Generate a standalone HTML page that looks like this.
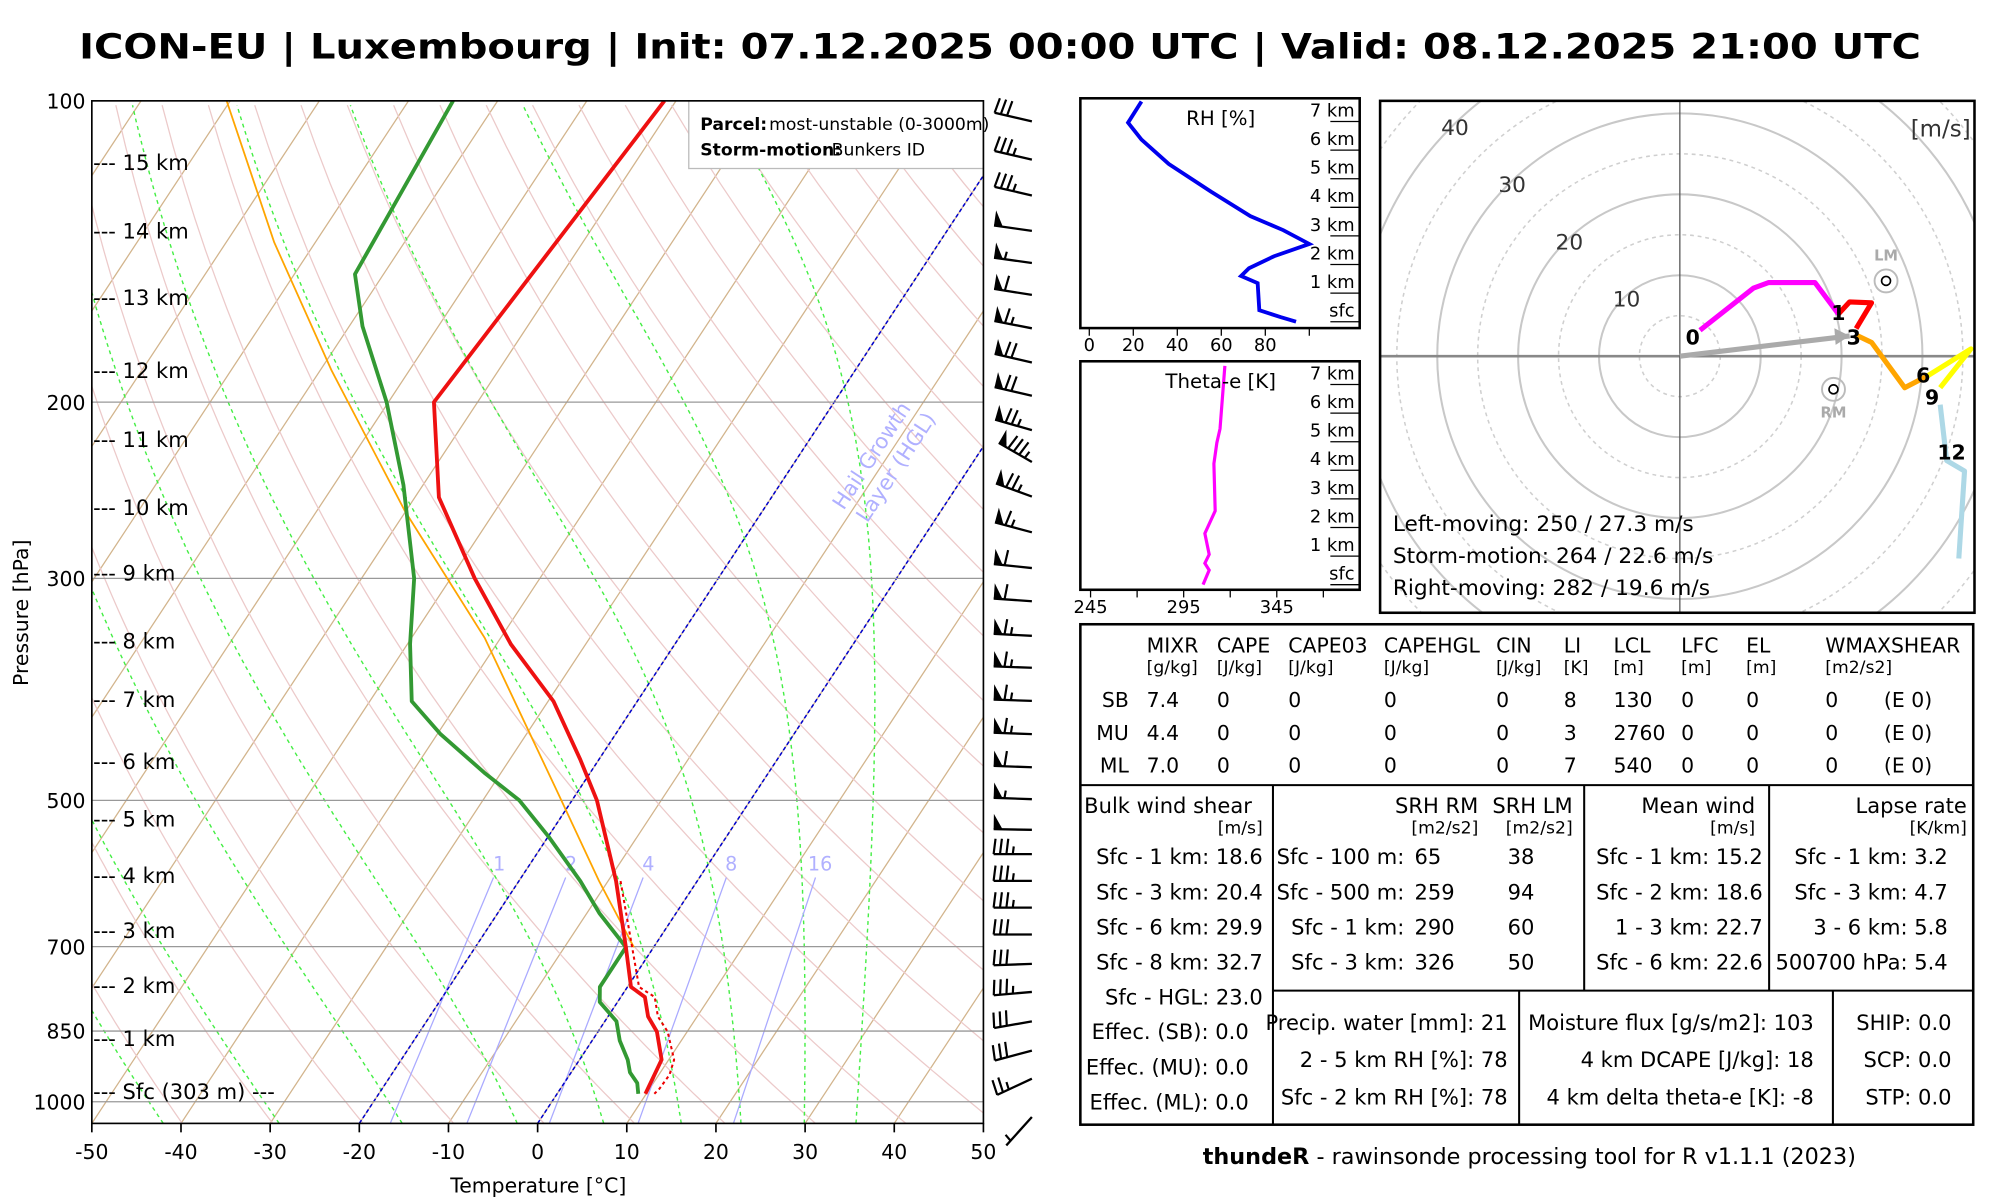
<!DOCTYPE html>
<html><head><meta charset="utf-8"><style>
html,body{margin:0;padding:0;background:#fff;}
svg{display:block;font-family:"DejaVu Sans","Liberation Sans",sans-serif;}
</style></head><body>
<svg id="root" xmlns="http://www.w3.org/2000/svg" width="2000" height="1200" viewBox="0 0 1568 940" preserveAspectRatio="none">
<defs>
<clipPath id="skewclip"><rect x="72" y="79" width="699" height="801"/></clipPath>
<clipPath id="hodoclip"><rect x="1082" y="79" width="466" height="401"/></clipPath>
<clipPath id="rhclip"><rect x="847" y="77" width="219" height="180"/></clipPath>
<clipPath id="thclip"><rect x="847" y="283" width="219" height="179"/></clipPath>
</defs>
<text x="784" y="46" text-anchor="middle" font-size="27" font-weight="bold" textLength="1444" lengthAdjust="spacingAndGlyphs">ICON-EU | Luxembourg | Init: 07.12.2025 00:00 UTC | Valid: 08.12.2025 21:00 UTC</text>
<g id="skew"></g>
<g id="barbs"></g>
<g id="rh"></g>
<g id="th"></g>
<g id="hodo"></g>
<g id="tbl" font-size="16.5"></g>
<text x="1199" y="912" text-anchor="middle" font-size="17.5"><tspan font-weight="bold">thundeR</tspan> - rawinsonde processing tool for R v1.1.1 (2023)</text>
</svg>
<script>
// ---- Skew-T data ----
const tempP = [100,200,249,300,349,398,455,500,602,701,768,786,822,851,908,971,982];
const tempT = [-61.3,-64.9,-57.3,-47.3,-38.4,-29.4,-22.1,-17.2,-9.1,-3.1,0.4,2.7,4.5,6.6,9.2,9.8,9.9];
const virtP = [602,701,768,786,822,851,908,940,971,982];
const virtT = [-8.6,-2.4,1.3,3.8,5.6,7.8,10.6,11.2,11.1,10.9];
const dewP = [100,149,168,200,242,300,349,398,429,469,500,543,602,648,701,768,795,831,869,908,935,958,982];
const dewT = [-85,-83.2,-78.5,-70.2,-62.2,-54.1,-49.7,-45.3,-39.7,-31.9,-25.9,-20,-13.1,-8.6,-3.1,-3.1,-2,1.3,3.1,5.4,6.6,8.2,9.1];
const parcelP = [100,138.5,186,257,344,490,602,701];
const parcelT = [-110.4,-94.6,-78.7,-60.1,-41.8,-22.3,-11,-2.2];
const isobars = [200,300,500,700,850,1000];
const pLabels = [100,200,300,500,700,850,1000];
const xTicks = [-50,-40,-30,-20,-10,0,10,20,30,40,50];
const kmNames = ["15 km","14 km","13 km","12 km","11 km","10 km","9 km","8 km","7 km","6 km","5 km","4 km","3 km","2 km","1 km","Sfc (303 m) ---"];
const kmP = [115.5,135.3,157.6,186.4,218.5,255.4,297.2,347.4,397.5,458.6,523,595.5,676.5,767.2,867.3,979];
const mixW = [1,2,4,8,16];
const moistStart = [-42,-29,-15.2,-2.3,7.4,16.1,22.8,29.9,35.7];
const hglIsotherms = [-20,0];
// ---- Wind barbs ----
const barbP = [103.3,112.8,122.5,132.9,143.1,154,166.3,179.9,194.2,210.2,226.2,244.9,265.9,288.7,311.6,337.4,363.1,391.9,423,456.5,491.3,527.2,557.5,592.9,630.5,670.8,717.7,765.5,819.1,876.1,934.6,1020.7];
const barbSpd = [30,35,35,50,55,60,65,70,70,75,85,75,65,60,60,65,65,65,65,60,55,50,35,35,35,30,30,35,30,30,25,5];
const barbDir = [283,283,283,278,278,279,281,283,283,286,300,290,285,276,274,273,272,272,272,272,272,271,270,270,270,270,268,265,260,255,245,222];
// ---- RH / theta-e ----
const rhH = [0,0.16,0.4,1.35,1.6,1.87,2.29,2.72,3.2,3.69,4.55,5.52,6.37,6.96,7.7];
const rhV = [94,86.9,77.3,76.5,69,72.6,84,100,88.2,73.2,55.3,36.1,23.7,17.6,23.7];
const thH = [0,0.51,0.75,1.06,1.79,2.58,4.23,4.96,5.45,7.65];
const thV = [305.4,308.7,306.4,308.7,306.4,311.9,311.2,312.8,314.5,317.1];
const kmTicks = ["sfc","1 km","2 km","3 km","4 km","5 km","6 km","7 km"];
const rhTicks = [0,20,40,60,80];
const thTicks = [245,295,345];
// ---- Hodograph ----
const hodoU0 = [2.5,9.1,11,16.7,18.8,19.6];   const hodoV0 = [3.2,8.4,9.1,9.1,6.3,5.2];
const hodoU1 = [19.6,21,23.7,21.8];            const hodoV1 = [5.2,6.7,6.6,3.4];
const hodoU3 = [21.8,23.7,27.8,30.7];          const hodoV3 = [2.6,1.7,-3.9,-2.4];
const hodoU6 = [30.7,36,32.2];                 const hodoV6 = [-2.4,0.9,-3.9];
const hodoU9 = [32.2,33,35.2,34.5];            const hodoV9 = [-6,-12.9,-14.2,-25];
const hodoLbl = ["0","1","3","6","9","12"];
const hodoLblU = [1.6,19.6,21.5,30.1,31.2,33.6];
const hodoLblV = [2.4,5.4,2.4,-2.3,-5,-11.8];
const stormU = [25.5,19,21]; const stormV = [9.3,-4.1,2.5];
const ringsSolid = [10,20,30,40]; const ringsDash = [5,15,25,35,45];

const NS = "http://www.w3.org/2000/svg";
function mk(tag, attrs, parent){const e=document.createElementNS(NS,tag);for(const k in attrs)e.setAttribute(k,attrs[k]);parent.appendChild(e);return e;}
function txt(parent,x,y,s,size,anchor,extra){const e=mk("text",Object.assign({x:x,y:y,"font-size":size,"text-anchor":anchor||"start"},extra||{}),parent);e.textContent=s;return e;}

const yP = p => 79 + 784*Math.log10(p/100);
const xT = (T,p) => 72 + (T+50)*6.99 + (880 - yP(p))*0.659;

const skew = document.getElementById("skew");
const cl = mk("g",{"clip-path":"url(#skewclip)"},skew);


for(let T=-160;T<=50;T+=10){
  const l=mk("line",{x1:xT(T,1051),y1:yP(1051),x2:xT(T,100),y2:yP(100),stroke:"#d2b48c","stroke-width":1},cl);
  
  
}
for(let th=220;th<=520;th+=10){
  let d="";for(let p=1051;p>=100;p-=10){const T=th*Math.pow(p/1000,0.2857)-273.15;d+=(d?"L":"M")+xT(T,p).toFixed(1)+","+yP(p).toFixed(1);}
  const l=mk("path",{d:d,fill:"none",stroke:"#eccaca","stroke-width":1},cl);
  
  
}
function es(T){return 6.112*Math.exp(17.67*T/(T+243.5));}
moistStart.forEach(T0=>{
  let T=T0+273.15,d="";
  for(let p=1051;p>=100;p-=2){
    d+=(d?"L":"M")+xT(T-273.15,p).toFixed(1)+","+yP(p).toFixed(1);
    const e=es(T-273.15),rs=0.622*e/(p-e);
    const dTdp=(287*T+2.5e6*rs)/(p*(1005+2.5e6*2.5e6*rs*0.622/(287*T*T)));
    T-=dTdp*2;
  }
  const l=mk("path",{d:d,fill:"none",stroke:"#44ee44","stroke-width":1.1,"stroke-dasharray":"3,3"},cl);
  
  
});
mixW.forEach(w=>{
  const td=p=>{const e=w*p/(622+w);const a=Math.log(e/6.112);return 243.5*a/(17.67-a);};
  const l=mk("line",{x1:xT(td(1051),1051),y1:yP(1051),x2:xT(td(597),597),y2:yP(597),stroke:"#aaaaff","stroke-width":1},cl);
  
  
  const t=txt(cl,xT(td(579),579),yP(579)+5,String(w),15,"middle",{fill:"#b0b0ff"});
  
  
});
hglIsotherms.forEach(T=>{
  const l=mk("line",{x1:xT(T,1051),y1:yP(1051),x2:xT(T,100),y2:yP(100),stroke:"#0000cc","stroke-width":1.2,"stroke-dasharray":"3,2"},cl);
  
  
});
const hg=txt(cl,0,0,"Hail Growth",16.5,"middle",{fill:"#b0b0ff",transform:"translate(688,360) rotate(-56.6)"});


const hg2=txt(cl,0,0,"Layer (HGL)",16.5,"middle",{fill:"#b0b0ff",transform:"translate(707,369) rotate(-56.6)"});


isobars.forEach(p=>{
  const l=mk("line",{x1:72,y1:yP(p),x2:771,y2:yP(p),stroke:"#999","stroke-width":1},cl);
  
  
});
function prof(P,T,attrs,name){
  const d=P.map((p,i)=>(i?"L":"M")+xT(T[i],p).toFixed(1)+","+yP(p).toFixed(1)).join("");
  const l=mk("path",Object.assign({d:d,fill:"none","stroke-linejoin":"round"},attrs),cl);
  
  
}
prof(parcelP,parcelT,{stroke:"#ffa500","stroke-width":1.4},"parcel-line");
prof(virtP,virtT,{stroke:"#ee0000","stroke-width":1.6,"stroke-dasharray":"2.5,2.5"},"virtual-temperature-line");
prof(dewP,dewT,{stroke:"#339933","stroke-width":3},"dewpoint-line");
prof(tempP,tempT,{stroke:"#ee1111","stroke-width":3},"temperature-line");
kmNames.forEach((s,i)=>{
  const t=txt(skew,73,yP(kmP[i])+5,"--- "+s,16.5,"start");
  
  
});
const lg=mk("g",{},skew);


mk("rect",{x:540,y:79,width:231,height:53,fill:"#fff",stroke:"#bbb","stroke-width":1},lg);
txt(lg,549,102,"Parcel:",13.5,"start",{"font-weight":"bold"});
txt(lg,603,102,"most-unstable (0-3000m)",13.5,"start");
txt(lg,549,122,"Storm-motion:",13.5,"start",{"font-weight":"bold"});
txt(lg,652,122,"Bunkers ID",13.5,"start");
mk("rect",{x:72,y:79,width:699,height:801,fill:"none",stroke:"#000","stroke-width":1.3},skew);
pLabels.forEach(p=>{
  const t=txt(skew,67,yP(p)+6,String(p),16,"end");
  
  
});
xTicks.forEach(T=>{
  const x=72+(T+50)*6.99;
  mk("line",{x1:x,y1:880,x2:x,y2:887,stroke:"#000","stroke-width":1.3},skew);
  const t=txt(skew,x,908,String(T),16,"middle");
  
  
});
const xt=txt(skew,422,934,"Temperature [°C]",16,"middle");


const yt=txt(skew,0,0,"Pressure [hPa]",16,"middle",{transform:"translate(22,480) rotate(-90)"});



// ---- barbs ----
const bg=document.getElementById("barbs");
barbP.forEach((p,i)=>{
  const g=mk("g",{},bg);
  
  
  const a=barbDir[i]*Math.PI/180, sx=Math.sin(a), sy=-Math.cos(a);
  const ax=809, ay=yP(p)+5, L=30;
  const ex=ax+sx*L, ey=ay+sy*L;
  mk("line",{x1:ax,y1:ay,x2:ex,y2:ey,stroke:"#000","stroke-width":1.8},g);
  const fx=-sy, fy=sx;
  let s=Math.round(barbSpd[i]/5)*5, pos=0;
  const pt=d=>[ex-sx*d, ey-sy*d];
  while(s>=50){const [x1,y1]=pt(pos),[x2,y2]=pt(pos+7);
    mk("polygon",{points:`${x1},${y1} ${x2},${y2} ${x1+fx*12},${y1+fy*12}`,fill:"#000"},g);pos+=8.5;s-=50;}
  while(s>=10){const [x1,y1]=pt(pos);mk("line",{x1:x1,y1:y1,x2:x1+fx*12-sx*1.5,y2:y1+fy*12-sy*1.5,stroke:"#000","stroke-width":1.7},g);pos+=5;s-=10;}
  if(s>=5){if(pos===0)pos=5;const [x1,y1]=pt(pos);mk("line",{x1:x1,y1:y1,x2:x1+fx*6-sx*0.8,y2:y1+fy*6-sy*0.8,stroke:"#000","stroke-width":1.7},g);}
});

// ---- RH panel ----
const rh=document.getElementById("rh");
const xRH=v=>854+v*1.725, yH1=h=>252-h*22.4;
mk("rect",{x:847,y:77,width:219,height:180,fill:"none",stroke:"#000","stroke-width":2},rh);
const rl=mk("path",{d:rhV.map((v,i)=>(i?"L":"M")+xRH(v).toFixed(1)+","+yH1(rhH[i]).toFixed(1)).join(""),fill:"none",stroke:"#0000ee","stroke-width":3,"clip-path":"url(#rhclip)"},rh);


txt(rh,957,98,"RH [%]",15.5,"middle");
kmTicks.forEach((s,i)=>{mk("line",{x1:1043,y1:yH1(i),x2:1066,y2:yH1(i),stroke:"#000","stroke-width":1},rh);
  const t=txt(rh,1062,yH1(i)-4,s,14,"end");});
rhTicks.concat([100]).forEach(v=>{mk("line",{x1:xRH(v),y1:257,x2:xRH(v),y2:263,stroke:"#000"},rh);});
rhTicks.forEach(v=>{const t=txt(rh,xRH(v),275,String(v),14,"middle");});

// ---- theta-e panel ----
const th=document.getElementById("th");
const xTH=v=>855+(v-245)*1.46, yH2=h=>458-h*22.4;
mk("rect",{x:847,y:283,width:219,height:179,fill:"none",stroke:"#000","stroke-width":2},th);
const tl=mk("path",{d:thV.map((v,i)=>(i?"L":"M")+xTH(v).toFixed(1)+","+yH2(thH[i]).toFixed(1)).join(""),fill:"none",stroke:"#ff00ff","stroke-width":2.5,"clip-path":"url(#thclip)"},th);


txt(th,957,304,"Theta-e [K]",15.5,"middle");
kmTicks.forEach((s,i)=>{mk("line",{x1:1043,y1:yH2(i),x2:1066,y2:yH2(i),stroke:"#000","stroke-width":1},th);
  const t=txt(th,1062,yH2(i)-4,s,14,"end");});
[245,270,295,320,345,370].forEach(v=>mk("line",{x1:xTH(v),y1:462,x2:xTH(v),y2:468,stroke:"#000"},th));
thTicks.forEach(v=>{const t=txt(th,xTH(v),480,String(v),14,"middle");});

// ---- hodograph ----
const ho=document.getElementById("hodo");
const cx=1317, cy=279, k=6.34;
const hx=u=>cx+u*k, hy=v=>cy-v*k;
const hc=mk("g",{"clip-path":"url(#hodoclip)"},ho);
ringsDash.forEach(r=>mk("circle",{cx:cx,cy:cy,r:r*k,fill:"none",stroke:"#cfcfcf","stroke-width":1.2,"stroke-dasharray":"3,3"},hc));
ringsSolid.forEach(r=>{const c=mk("circle",{cx:cx,cy:cy,r:r*k,fill:"none",stroke:"#c8c8c8","stroke-width":1.6},hc);
  
  const t=txt(hc,cx-r*k*0.707+3,cy-r*k*0.707+6,String(r),17,"middle",{fill:"#333"});});
mk("line",{x1:1082,y1:cy,x2:1548,y2:cy,stroke:"#888","stroke-width":2},hc);
mk("line",{x1:cx,y1:79,x2:cx,y2:480,stroke:"#555","stroke-width":1},hc);
txt(hc,1545,107,"[m/s]",18,"end",{fill:"#333"});
const ar=mk("line",{x1:cx,y1:cy,x2:hx(stormU[2]),y2:hy(stormV[2]),stroke:"#aaa","stroke-width":4},hc);

mk("polygon",{points:`${hx(stormU[2])},${hy(stormV[2])} ${hx(stormU[2])-12},${hy(stormV[2])-6} ${hx(stormU[2])-11},${hy(stormV[2])+7}`,fill:"#aaa"},hc);
[["LM",0],["RM",1]].forEach(([n,i])=>{
  const g=mk("g",{},hc);
  mk("circle",{cx:hx(stormU[i]),cy:hy(stormV[i]),r:9,fill:"none",stroke:"#bbb","stroke-width":1.5},g);
  mk("circle",{cx:hx(stormU[i]),cy:hy(stormV[i]),r:3.5,fill:"none",stroke:"#000","stroke-width":1.3},g);
  txt(g,hx(stormU[i]),n==="LM"?hy(stormV[i])-16:hy(stormV[i])+22,n,11.5,"middle",{fill:"#aaa","font-weight":"bold"});
});
[[hodoU0,hodoV0,"#ff00ff"],[hodoU1,hodoV1,"#ff0000"],[hodoU3,hodoV3,"#ffa500"],[hodoU6,hodoV6,"#ffff00"],[hodoU9,hodoV9,"#add8e6"]].forEach(([U,V,c])=>{
  const l=mk("path",{d:U.map((u,i)=>(i?"L":"M")+hx(u).toFixed(1)+","+hy(V[i]).toFixed(1)).join(""),fill:"none",stroke:c,"stroke-width":4,"stroke-linejoin":"round"},hc);
  
});
hodoLbl.forEach((s,i)=>{const t=txt(hc,hx(hodoLblU[i]),hy(hodoLblV[i])+6,s,16,"middle",{"font-weight":"bold"});});
["Left-moving: 250 / 27.3 m/s","Storm-motion: 264 / 22.6 m/s","Right-moving: 282 / 19.6 m/s"].forEach((s,i)=>{
  const t=txt(hc,1092,416+i*25,s,17,"start");});
mk("rect",{x:1082,y:79,width:466,height:401,fill:"none",stroke:"#000","stroke-width":2},ho);

// ---- table ----
const tb=document.getElementById("tbl");
mk("rect",{x:847,y:489,width:700,height:392,fill:"none",stroke:"#000","stroke-width":2},tb);
[[847,615,1547,615],[998,615,998,881],[1242,615,1242,776],[1387,615,1387,776],[998,776,1547,776],[1191,776,1191,881],[1437,776,1437,881]].forEach(a=>mk("line",{x1:a[0],y1:a[1],x2:a[2],y2:a[3],stroke:"#000","stroke-width":1.6},tb));
const cols=[899,954,1010,1085,1173,1226,1265,1318,1369,1431];
const hd=["MIXR","CAPE","CAPE03","CAPEHGL","CIN","LI","LCL","LFC","EL","WMAXSHEAR"];
const un=["[g/kg]","[J/kg]","[J/kg]","[J/kg]","[J/kg]","[K]","[m]","[m]","[m]","[m2/s2]"];
hd.forEach((h,i)=>{txt(tb,cols[i],511,h,16);txt(tb,cols[i],527,un[i],13.5);});
const rows=[["SB","7.4","0","0","0","0","8","130","0","0","0"],["MU","4.4","0","0","0","0","3","2760","0","0","0"],["ML","7.0","0","0","0","0","7","540","0","0","0"]];
rows.forEach((r,j)=>{const y=554+j*25.5;txt(tb,885,y,r[0],16,"end");
  for(let i=1;i<r.length;i++)txt(tb,cols[i-1],y,r[i],16);txt(tb,1477,y,"(E 0)",16);});
txt(tb,850,637,"Bulk wind shear");txt(tb,990,653,"[m/s]",13.5,"end");
["Sfc - 1 km: 18.6","Sfc - 3 km: 20.4","Sfc - 6 km: 29.9","Sfc - 8 km: 32.7","Sfc - HGL: 23.0"].forEach((s,i)=>txt(tb,990,677+i*27.5,s,16.5,"end"));
["Effec. (SB): 0.0","Effec. (MU): 0.0","Effec. (ML): 0.0"].forEach((s,i)=>txt(tb,979,814+i*27.5,s,16.5,"end"));
txt(tb,1159,637,"SRH RM",16.5,"end");txt(tb,1233,637,"SRH LM",16.5,"end");
txt(tb,1159,653,"[m2/s2]",13.5,"end");txt(tb,1233,653,"[m2/s2]",13.5,"end");
[["Sfc - 100 m:","65","38"],["Sfc - 500 m:","259","94"],["Sfc - 1 km:","290","60"],["Sfc - 3 km:","326","50"]].forEach((r,i)=>{const y=677+i*27.5;
  txt(tb,1101,y,r[0],16.5,"end");txt(tb,1109,y,r[1],16.5);txt(tb,1182,y,r[2],16.5);});
txt(tb,1376,637,"Mean wind",16.5,"end");txt(tb,1376,653,"[m/s]",13.5,"end");
["Sfc - 1 km: 15.2","Sfc - 2 km: 18.6","1 - 3 km: 22.7","Sfc - 6 km: 22.6"].forEach((s,i)=>txt(tb,1382,677+i*27.5,s,16.5,"end"));
txt(tb,1542,637,"Lapse rate",16.5,"end");txt(tb,1542,653,"[K/km]",13.5,"end");
["Sfc - 1 km: 3.2","Sfc - 3 km: 4.7","3 - 6 km: 5.8","500700 hPa: 5.4"].forEach((s,i)=>txt(tb,1527,677+i*27.5,s,16.5,"end"));
["Precip. water [mm]: 21","2 - 5 km RH [%]: 78","Sfc - 2 km RH [%]: 78"].forEach((s,i)=>txt(tb,1182,807+i*29,s,16.5,"end"));
["Moisture flux [g/s/m2]: 103","4 km DCAPE [J/kg]: 18","4 km delta theta-e [K]: -8"].forEach((s,i)=>txt(tb,1422,807+i*29,s,16.5,"end"));
["SHIP: 0.0","SCP: 0.0","STP: 0.0"].forEach((s,i)=>txt(tb,1530,807+i*29,s,16.5,"end"));
</script>
</body></html>
